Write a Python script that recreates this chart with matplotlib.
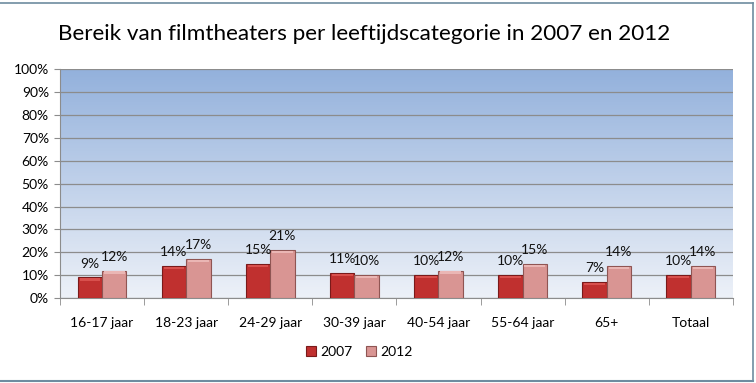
import numpy as np
import matplotlib
matplotlib.use("Agg")
import matplotlib.pyplot as plt
from matplotlib.colors import LinearSegmentedColormap

plt.rcParams['font.family'] = ['Lato', 'DejaVu Sans']

# data
categories = ["16-17 jaar", "18-23 jaar", "24-29 jaar", "30-39 jaar",
              "40-54 jaar", "55-64 jaar", "65+", "Totaal"]
vals_2007 = [9, 14, 15, 11, 10, 10, 7, 10]
vals_2012 = [12, 17, 21, 10, 12, 15, 14, 14]
series_names = ["2007", "2012"]
yticks = [0, 10, 20, 30, 40, 50, 60, 70, 80, 90, 100]

fig = plt.figure(figsize=(7.56, 3.83), dpi=100)
ax = fig.add_axes([0.0794, 0.222, 0.89, 0.597])

# gradient background of the plot area
grad = LinearSegmentedColormap.from_list("bg", ["#edf1f8", "#93b1dc"])
ax.imshow(np.linspace(0, 1, 256).reshape(-1, 1), cmap=grad, aspect="auto",
          extent=[-0.5, len(categories) - 0.5, 0, 100], origin="lower", zorder=0)

x = np.arange(len(categories))
w = 0.29
b1 = ax.bar(x - w / 2, vals_2007, w, color="#c0302f", edgecolor="#7a1a1a",
            linewidth=0.8, zorder=3, label=series_names[0])
b2 = ax.bar(x + w / 2, vals_2012, w, color="#d99593", edgecolor="#8f5553",
            linewidth=0.8, zorder=3, label=series_names[1])
# lighter top strip as a small bevel hint
ax.bar(x - w / 2, [1.0] * len(x), w * 0.85, bottom=np.array(vals_2007) - 1.4,
       color="#d8504d", linewidth=0, zorder=4)
ax.bar(x + w / 2, [1.0] * len(x), w * 0.85, bottom=np.array(vals_2012) - 1.4,
       color="#eab6b4", linewidth=0, zorder=4)

for bars, vals in ((b1, vals_2007), (b2, vals_2012)):
    for rect, v in zip(bars, vals):
        ax.annotate(f"{v}%", (rect.get_x() + rect.get_width() / 2, v),
                    xytext=(0, 7), textcoords="offset points",
                    ha="center", va="baseline", fontsize=10, color="#111111",
                    zorder=5)

ax.set_xlim(-0.5, len(categories) - 0.5)
ax.set_ylim(0, 100)
ax.set_yticks(yticks)
ax.set_yticklabels([f"{t}%" for t in yticks], fontsize=10)
ax.yaxis.grid(True, color="#8c8c8c", linewidth=0.9, zorder=1)
ax.set_axisbelow(True)

ax.set_xticks(x)
ax.set_xticklabels(categories, fontsize=10)
ax.set_xticks(np.arange(len(categories) + 1) - 0.5, minor=True)
ax.tick_params(axis="x", which="major", length=0, pad=14)
ax.tick_params(axis="x", which="minor", length=5, color="#8c8c8c")
ax.tick_params(axis="y", length=4, color="#8c8c8c", pad=4)

for s in ("top", "right"):
    ax.spines[s].set_visible(False)
for s in ("left", "bottom"):
    ax.spines[s].set_color("#8c8c8c")

fig.text(0.481, 0.912, "Bereik van filmtheaters per leeftijdscategorie in 2007 en 2012",
         ha="center", va="center", fontsize=16.2, color="#000000")

ax.legend(loc="center", bbox_to_anchor=(0.445, -0.235), ncol=2, frameon=False,
          fontsize=10, handlelength=0.7, handleheight=0.7, handletextpad=0.3,
          columnspacing=1.0)

# outer frame (left edge cut off in the reference)
fig.add_artist(plt.Line2D([0, 0.996], [0.992, 0.992], transform=fig.transFigure,
                          color="#6e8ca0", linewidth=1.2))
fig.add_artist(plt.Line2D([0.996, 0.996], [0.992, 0.005], transform=fig.transFigure,
                          color="#6e8ca0", linewidth=1.2))
fig.add_artist(plt.Line2D([0, 0.996], [0.005, 0.005], transform=fig.transFigure,
                          color="#6e8ca0", linewidth=1.5))

fig.savefig("out.png", dpi=100)
